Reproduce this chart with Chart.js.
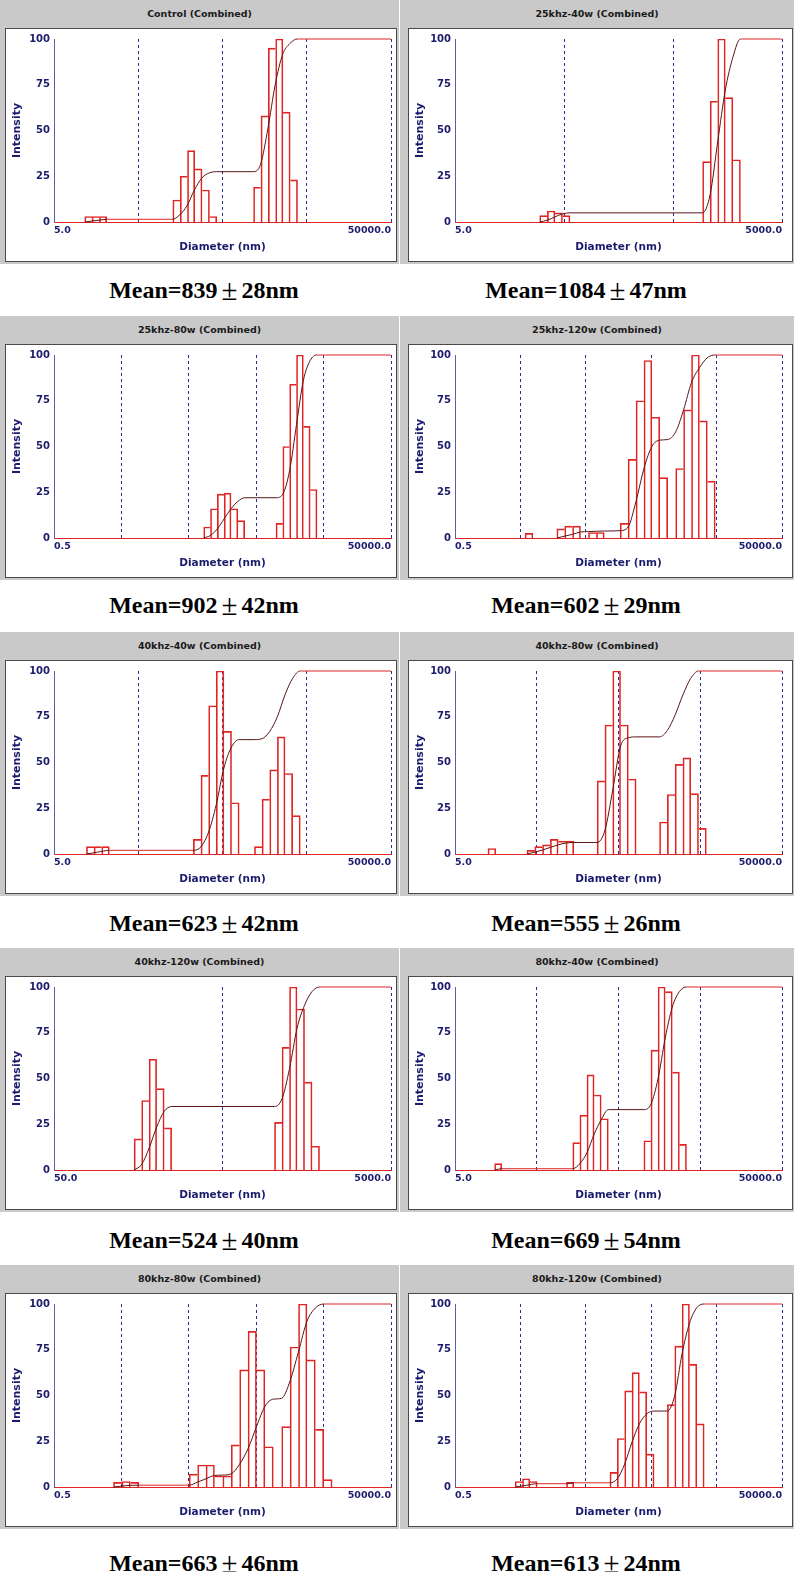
<!DOCTYPE html>
<html lang="en">
<head>
<meta charset="UTF-8">
<title>Particle size distributions (Combined)</title>
<script src="https://cdn.jsdelivr.net/npm/chart.js"></script>
<style>
  body { margin: 0; background: #fff; }
  #page { position: relative; width: 794px; height: 1572px; overflow: hidden; }
  .panel { position: absolute; height: 264px; background: #c9c9c9; }
  .ttl { height: 27px; font: bold 9.5px "DejaVu Sans", Verdana, sans-serif; line-height: 27px; text-align: center; color: #1a1a1a; }
  .box { position: absolute; top: 28px; height: 234px; background: #fff; border: 1px solid #4a4a4a; box-sizing: border-box; }
  .box canvas { display: block; }
  .cap { position: absolute; width: 300px; height: 30px; font: bold 24px "Liberation Serif", "Times New Roman", serif;
         line-height: 30px; text-align: center; color: #000; white-space: nowrap; }
  .pm { display: inline-block; width: 24px; font-weight: normal; font-size: 29px; line-height: 30px; text-align: center; vertical-align: top; }
</style>
</head>
<body>
<div id="page"></div>
<script>
// panel titles, axis ranges and the mean values under each panel
const titles = ['Control (Combined)', '25khz-40w (Combined)', '25khz-80w (Combined)', '25khz-120w (Combined)',
                '40khz-40w (Combined)', '40khz-80w (Combined)', '40khz-120w (Combined)', '80khz-40w (Combined)',
                '80khz-80w (Combined)', '80khz-120w (Combined)'];
const xMin = [5, 5, 0.5, 0.5, 5, 5, 50, 5, 0.5, 0.5];
const xMax = [50000, 5000, 50000, 50000, 50000, 50000, 5000, 50000, 50000, 50000];
const meanNm = [839, 1084, 902, 602, 623, 555, 524, 669, 663, 613];
const sdNm = [28, 47, 42, 29, 42, 26, 40, 54, 46, 24];

// histogram bins: diameter (nm) at bin centre, intensity
// cumulative curve: diameter (nm), cumulative intensity (%)
const p1Size = [12.8, 15.6, 19.1, 142, 174, 212, 259, 317, 387, 1290, 1580, 1930, 2360, 2880, 3520];
const p1Int = [3, 3, 3, 12, 25, 39, 29, 17.5, 3, 19, 58, 95, 100, 60, 23];
const p1CumSize = [11.6, 14.1, 17.3, 21.1, 127, 156, 190, 232, 284, 347, 424, 1157, 1414, 1728, 2112, 2582, 3155, 3856, 50000];
const p1Cum = [0, 0.5, 1, 1.5, 1.5, 4, 9, 17.5, 24, 26.8, 27.5, 27.5, 31.5, 51, 75, 91.5, 97.5, 100, 100];

const p2Size = [32.4, 38.1, 44.7, 52.4, 1012, 1188, 1393, 1635, 1919];
const p2Int = [3.5, 6, 5, 3.5, 33, 66, 100, 68, 34];
const p2CumSize = [30, 35.2, 41.3, 48.4, 56.8, 934, 1096, 1286, 1509, 1771, 2078, 5000];
const p2Cum = [0, 1, 2.8, 4.4, 5, 5, 15, 44, 72, 90, 100, 100];

const p3Size = [93.4, 117.9, 148.9, 188.3, 237.8, 300.2, 1105, 1395, 1761, 2227, 2812, 3551];
const p3Int = [6, 16, 24, 24.5, 16, 9.5, 8, 50, 84, 100, 61, 26.5];
const p3CumSize = [83.1, 104.9, 132.7, 167.5, 211.4, 267.3, 337.5, 983, 1241, 1568, 1981, 2501, 3162, 3992, 50000];
const p3Cum = [0, 1.4, 5, 10.5, 16, 20, 22, 22, 24, 37, 62, 86, 97, 100, 100];

const p4Size = [6.77, 20.7, 27.3, 36.1, 63.1, 83.4, 192.8, 254.8, 336.8, 445.3, 588.6, 778, 1360, 1797, 2375, 3141, 4152];
const p4Int = [2.5, 5, 6.5, 6.5, 3, 3, 8, 43, 75, 97, 66, 33, 38, 70, 100, 64, 31];
const p4CumSize = [18, 23.8, 31.4, 41.5, 55, 96, 167.6, 221.6, 292.9, 387.3, 512, 676.8, 894.7, 1183, 1563, 2067, 2732, 3611, 4773, 50000];
const p4Cum = [0, 1, 2, 3.3, 3.5, 3.8, 4, 6, 20, 38, 50, 53.5, 53.8, 58, 70, 85, 93, 98.5, 100, 100];

const p5Size = [13.47, 16.59, 20.44, 250.2, 308.3, 379.9, 468.1, 576.8, 710.8, 1329, 1638, 2018, 2487, 3064, 3776];
const p5Int = [4, 4, 4, 8, 43, 81, 100, 67, 28, 4, 30, 46, 64, 44, 21];
const p5CumSize = [12.13, 16.5, 22.69, 225.5, 277.8, 342.2, 421.7, 519.5, 640.1, 788.7, 1197.5, 1475.6, 1818, 2240, 2760, 3401, 4191, 50000];
const p5Cum = [0, 1, 2, 2, 4, 12, 27, 47, 58.5, 62.5, 62.5, 63, 67, 75, 87, 96, 100, 100];

const p6Size = [14.12, 42.36, 52.77, 65.72, 81.88, 102, 127, 305.9, 381, 474.6, 591.1, 736.3, 1773, 2208, 2750, 3426, 4268, 5316];
const p6Int = [3, 2, 4, 5, 8, 7, 7, 40, 70.5, 100, 70.5, 41, 17.5, 32.5, 49, 52.5, 33, 14];
const p6CumSize = [37.95, 47.28, 58.9, 73.37, 91.38, 113.8, 141.8, 274.1, 341.3, 425.2, 529.7, 659.6, 821.7, 1588, 1979, 2465, 3070, 3824, 4764, 50000];
const p6Cum = [0, 1, 2.2, 3.6, 5, 6, 6.3, 6.3, 13, 35, 59, 63.5, 64, 64, 67.5, 76, 87, 96, 100, 100];

const p7Size = [157.3, 174.3, 193.1, 214.1, 237.1, 1071, 1187, 1315, 1458, 1615, 1789];
const p7Int = [17, 38, 60.5, 44.5, 23, 26, 67, 100, 88, 48, 13];
const p7CumSize = [149.4, 165.6, 183.5, 203.4, 225.3, 249.6, 1018, 1128, 1250, 1385, 1534, 1700, 1884, 5000];
const p7Cum = [0, 3, 12, 23.5, 32, 34.7, 34.7, 39, 55.5, 77.5, 90, 97.5, 100, 100];

const p8Size = [16.86, 152.5, 186.3, 227.6, 278, 339.7, 1129, 1379, 1685, 2058, 2514, 3071];
const p8Int = [3.5, 15, 30, 52, 41, 28, 16, 65.5, 100, 97.5, 53.5, 14];
const p8CumSize = [15.26, 18.64, 138, 168.5, 205.9, 251.5, 307.3, 375.4, 1021, 1248, 1524, 1862, 2275, 2779, 3395, 50000];
const p8Cum = [0, 0.7, 0.7, 3.5, 9.5, 19.5, 27.5, 33, 33, 36, 50, 72, 89, 97.5, 100, 100];

const p9Size = [4.41, 5.88, 7.84, 58.5, 78, 104, 138.5, 184.6, 246.1, 328, 437.1, 582.6, 776.4, 1379, 1838, 2450, 3265, 4351, 5799];
const p9Int = [2.5, 3, 2.5, 7, 12, 12, 6, 6, 23, 64, 85, 64, 22, 33, 76.5, 100, 69.5, 31.5, 4];
const p9CumSize = [3.82, 5.09, 6.79, 9.05, 50.7, 67.6, 90, 120, 160, 213, 284, 379, 505, 672, 896, 1195, 1592, 2122, 2828, 3769, 5023, 50000];
const p9Cum = [0, 0.5, 0.9, 1, 1, 2.7, 4.5, 6.3, 6.5, 7.2, 12.5, 21, 33, 44, 48, 48.5, 58, 74, 90.5, 97.8, 100, 100];

const p10Size = [4.73, 6.12, 7.94, 28.8, 133, 172.4, 223.5, 289.6, 375.4, 486.6, 1006, 1304, 1690, 2191, 2840];
const p10Int = [3, 4.5, 3, 2.5, 8, 26.5, 52.5, 62.5, 52, 18, 45, 77, 100, 67, 34.5];
const p10CumSize = [4.15, 6.12, 9.04, 25.3, 32.8, 116.8, 151.5, 196.3, 254.4, 329.8, 427.3, 553.9, 884.2, 1146, 1485, 1925, 2494, 3232, 50000];
const p10Cum = [0, 0.9, 1.8, 1.8, 2.3, 2.3, 4.5, 12.5, 24.5, 34.5, 40, 41.5, 41.5, 50, 73, 89.5, 98, 100, 100];

const sizes = [p1Size, p2Size, p3Size, p4Size, p5Size, p6Size, p7Size, p8Size, p9Size, p10Size];
const intens = [p1Int, p2Int, p3Int, p4Int, p5Int, p6Int, p7Int, p8Int, p9Int, p10Int];
const cumSizes = [p1CumSize, p2CumSize, p3CumSize, p4CumSize, p5CumSize, p6CumSize, p7CumSize, p8CumSize, p9CumSize, p10CumSize];
const cums = [p1Cum, p2Cum, p3Cum, p4Cum, p5Cum, p6Cum, p7Cum, p8Cum, p9Cum, p10Cum];

const RED = '#e02424', DARK = '#5b1414', NAVY = '#1c1c6e', AXIS = '#5c5cab', GRIDC = '#2e2e8a';
const FONT = '"DejaVu Sans", Verdana, sans-serif';

// two columns of panels, five rows
const cols = [
    {left: 0, width: 399, boxL: 5, boxW: 392, yW: 48, padR: 5, capC: 204},
    {left: 400, width: 394, boxL: 8, boxW: 385, yW: 46, padR: 10, capC: 586}
];
const rowTop = [0, 316, 632, 948, 1265];
const capMid = [290, 605, 923, 1240, 1563];

function drawPanel(cv, n, col) {
    const size = sizes[n];
    let minR = Infinity;
    for (let i = 1; i < size.length; i++) minR = Math.min(minR, size[i] / size[i - 1]);
    const gapR = Math.pow(minR, 1.5);
    const decades = [];
    for (let v = xMin[n]; v <= xMax[n] * 1.0001; v *= 10) decades.push(v);

    new Chart(cv, {
        type: 'bar',
        data: {
            datasets: [{
                type: 'line',
                data: cums[n].map((y, i) => ({x: cumSizes[n][i], y: y})),
                borderColor: DARK,
                borderWidth: 1,
                pointRadius: 0,
                cubicInterpolationMode: 'monotone',
                clip: 3,
                order: 1,
                segment: {
                    borderColor: c => {
                        const a = c.p0.parsed.y, b = c.p1.parsed.y;
                        return (a === b && (a >= 100 || a < 2.5)) ? RED : DARK;
                    }
                }
            }, {
                type: 'bar',
                data: size.map((x, i) => ({x: x, y: intens[n][i]})),
                borderColor: RED,
                backgroundColor: 'rgba(0,0,0,0)',
                borderSkipped: 'bottom',
                // a shared edge between two bars is drawn once, by the taller one
                borderWidth: c => {
                    const d = c.dataset.data, i = c.dataIndex;
                    const prevAdj = i > 0 && d[i].x / d[i - 1].x <= gapR;
                    const nextAdj = i < d.length - 1 && d[i + 1].x / d[i].x <= gapR;
                    const left = (!prevAdj || d[i - 1].y <= d[i].y) ? 1 : 0;
                    const right = (!nextAdj || d[i + 1].y < d[i].y) ? 1 : 0;
                    return {left: left, top: 1, right: right, bottom: 0};
                },
                barPercentage: 1,
                categoryPercentage: 1,
                order: 2
            }]
        },
        options: {
            responsive: false,
            animation: false,
            events: [],
            layout: {padding: {left: 0, right: col.padR, top: 9, bottom: 0}},
            plugins: {legend: {display: false}, tooltip: {enabled: false}},
            scales: {
                x: {
                    type: 'logarithmic',
                    min: xMin[n],
                    max: xMax[n],
                    offset: false,
                    afterBuildTicks: s => { s.ticks = decades.map(v => ({value: v})); },
                    afterFit: s => { s.height = 39; },
                    ticks: {
                        autoSkip: false, maxRotation: 0, align: 'inner', padding: 3, color: NAVY,
                        font: {family: FONT, size: 9.5, weight: 'bold'},
                        callback: (v, i, t) => (i === 0 || i === t.length - 1) ? Number(v).toFixed(1) : ''
                    },
                    grid: {offset: false, drawTicks: false, lineWidth: 1,
                           color: c => c.index === 0 ? 'rgba(0,0,0,0)' : GRIDC},
                    border: {color: RED, width: 1, dash: [3, 3]},
                    title: {display: true, text: 'Diameter (nm)', color: NAVY,
                            font: {family: FONT, size: 10.5, weight: 'bold'}, padding: {top: 0, bottom: 7}}
                },
                y: {
                    min: 0,
                    max: 100,
                    afterFit: s => { s.width = col.yW; },
                    ticks: {stepSize: 25, padding: 4, color: NAVY, font: {family: FONT, size: 10, weight: 'bold'}},
                    grid: {display: false, drawTicks: false},
                    border: {color: AXIS, width: 1},
                    title: {display: true, text: 'Intensity', color: NAVY,
                            font: {family: FONT, size: 11, weight: 'bold'}, padding: {top: 5, bottom: 0}}
                }
            }
        }
    });
}

const page = document.getElementById('page');
titles.forEach((t, n) => {
    const col = cols[n % 2], row = Math.floor(n / 2);
    const panel = document.createElement('div');
    panel.className = 'panel';
    panel.style.left = col.left + 'px';
    panel.style.top = rowTop[row] + 'px';
    panel.style.width = col.width + 'px';
    panel.innerHTML = '<div class="ttl">' + t + '</div>';
    const box = document.createElement('div');
    box.className = 'box';
    box.style.left = col.boxL + 'px';
    box.style.width = col.boxW + 'px';
    const cv = document.createElement('canvas');
    cv.width = col.boxW - 2;
    cv.height = 232;
    box.appendChild(cv);
    panel.appendChild(box);
    page.appendChild(panel);

    const cap = document.createElement('div');
    cap.className = 'cap';
    cap.style.left = (col.capC - 150) + 'px';
    cap.style.top = (capMid[row] - 15) + 'px';
    cap.innerHTML = 'Mean=' + meanNm[n] + '<span class="pm">±</span>' + sdNm[n] + 'nm';
    page.appendChild(cap);

    drawPanel(cv, n, col);
});
</script>
</body>
</html>
